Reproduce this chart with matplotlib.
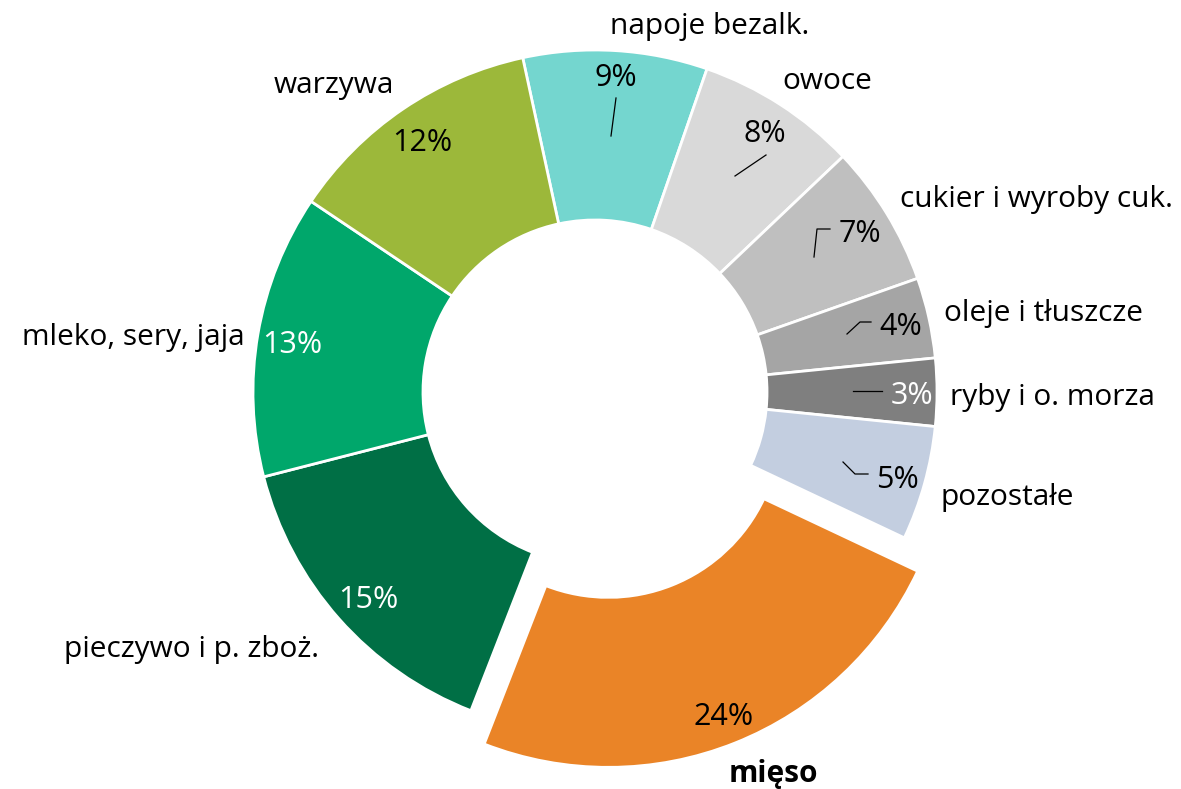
import matplotlib

matplotlib.use("Agg")
import matplotlib.pyplot as plt

# ---- data (clockwise from the top) ----
categories = ["napoje bezalk.", "owoce", "cukier i wyroby cuk.", "oleje i tłuszcze",
              "ryby i o. morza", "pozostałe", "mięso", "pieczywo i p. zboż.",
              "mleko, sery, jaja", "warzywa"]
shares = [8.7, 7.6, 6.7, 3.8, 3.2, 5.4, 23.9, 15.1, 13.4, 12.2]

# ---- style ----
colors = ["#74D6CF", "#D9D9D9", "#BFBFBF", "#A5A5A5", "#7F7F7F", "#C3CEE0",
          "#EA8427", "#006F45", "#00A76B", "#9CB83A"]
pct_colors = ["black", "black", "black", "black", "white", "black",
              "black", "white", "white", "black"]
highlight = "mięso"

W, H = 1181, 789
CX, CY, R = 595, 392, 342          # ring centre and outer radius, pixels

# label anchors in pixels: (x centre, baseline y)
cat_pos = [(710, 34), (827, 89), (1037, 207), (1043, 321), (1052, 405),
           (1007, 505), (773, 782), (192, 657), (133, 345), (334, 93)]
pct_pos = [(616, 86), (765, 142), (860, 242), (901, 335), (912, 404),
           (897, 488), (724, 725), (368, 608), (292, 353), (422, 151)]
leaders = [[(616, 98), (611, 136)],
           [(766, 155), (735, 176)],
           [(814, 257), (817, 229), (830, 229)],
           [(847, 334), (860, 322), (871, 322)],
           [(853, 391), (882, 391)],
           [(843, 462), (855, 474), (868, 474)],
           None, None, None, None]


def px(x, y):
    return (x - CX) / R, (CY - y) / R


plt.rcParams["font.family"] = ["Open Sans", "DejaVu Sans"]

fig = plt.figure(figsize=(W / 100, H / 100), dpi=100, facecolor="white")
ax = fig.add_axes([0, 0, 1, 1])

explode = [0.105 if c == highlight else 0 for c in categories]
ax.pie(shares, colors=colors, startangle=102.2, counterclock=False,
       explode=explode, radius=1.0,
       wedgeprops=dict(width=0.497, edgecolor="white", linewidth=2))

ax.set_xlim(-CX / R, (W - CX) / R)
ax.set_ylim(-(H - CY) / R, CY / R)
ax.set_aspect("equal")
ax.axis("off")

for i, cat in enumerate(categories):
    x, y = px(*cat_pos[i])
    ax.text(x, y, cat, ha="center", va="baseline", fontsize=21.5,
            fontweight="bold" if cat == highlight else "normal", color="black")
    x, y = px(*pct_pos[i])
    ax.text(x, y, f"{shares[i]:.0f}%", ha="center", va="baseline", fontsize=22,
            color=pct_colors[i])
    if leaders[i]:
        pts = [px(*p) for p in leaders[i]]
        ax.plot([p[0] for p in pts], [p[1] for p in pts], color="black", lw=0.9)

fig.savefig("out.png", dpi=100, facecolor="white")
